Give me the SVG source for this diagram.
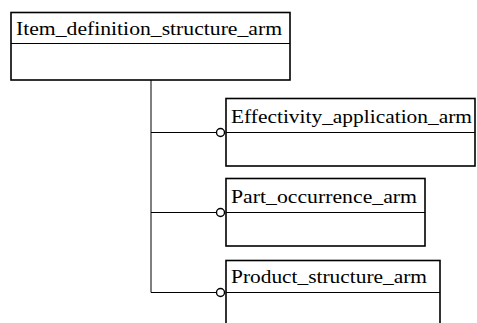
<svg xmlns="http://www.w3.org/2000/svg" width="477" height="323" viewBox="0 0 477 323">
<style>
.box{fill:#fff;stroke:#000;stroke-width:1.6}
.div{stroke:#000;stroke-width:1}
.t{font-family:"Liberation Serif","Times New Roman",serif;font-size:18px;fill:#000}
.c{fill:none;stroke:#000;stroke-width:1}
.o{fill:#fff;stroke:#000;stroke-width:1.4}
</style>
<rect width="477" height="323" fill="#fff"/>
<g id="connectors">
<path class="c" d="M151 80V292.5H216.5"/>
<path class="c" d="M151 132.5H216.5"/>
<path class="c" d="M151 212.5H216.5"/>
<circle class="o" cx="220.5" cy="132.5" r="4"/>
<circle class="o" cx="220.5" cy="212.5" r="4"/>
<circle class="o" cx="220.5" cy="292.5" r="4"/>
</g>
<g id="item_definition_structure_arm">
<rect class="box" x="11" y="12.5" width="279" height="67.5"/>
<line class="div" x1="11" y1="43.5" x2="290" y2="43.5"/>
<text class="t" x="16" y="35" textLength="266" lengthAdjust="spacingAndGlyphs">Item_definition_structure_arm</text>
</g>
<g id="effectivity_application_arm">
<rect class="box" x="226" y="98.5" width="249" height="67.5"/>
<line class="div" x1="226" y1="132.5" x2="475" y2="132.5"/>
<text class="t" x="231" y="123" textLength="241" lengthAdjust="spacingAndGlyphs">Effectivity_application_arm</text>
</g>
<g id="part_occurrence_arm">
<rect class="box" x="226" y="178.5" width="199" height="67.5"/>
<line class="div" x1="226" y1="212.5" x2="425" y2="212.5"/>
<text class="t" x="231" y="203" textLength="186" lengthAdjust="spacingAndGlyphs">Part_occurrence_arm</text>
</g>
<g id="product_structure_arm">
<rect class="box" x="226" y="260.5" width="214" height="70"/>
<line class="div" x1="226" y1="292.5" x2="440" y2="292.5"/>
<text class="t" x="231" y="283" textLength="196" lengthAdjust="spacingAndGlyphs">Product_structure_arm</text>
</g>
</svg>
